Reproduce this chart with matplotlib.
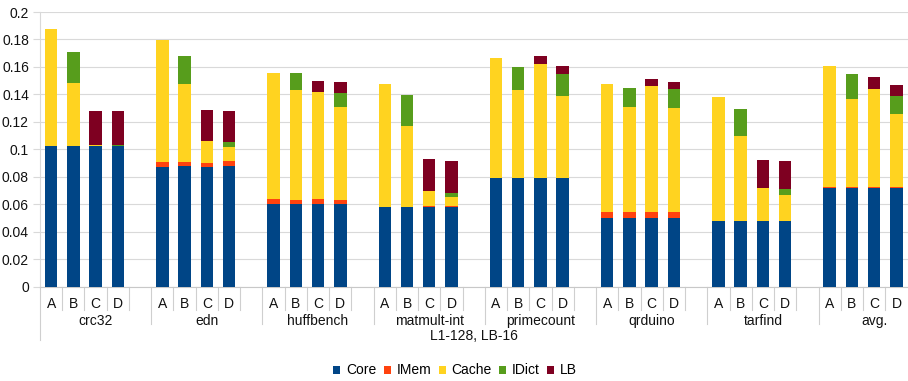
import numpy as np
import matplotlib
matplotlib.use('Agg')
import matplotlib.pyplot as plt
from matplotlib.patches import Patch

plt.rcParams['font.family'] = ['Liberation Sans', 'DejaVu Sans']

# benchmarks and configurations
groups = ['crc32', 'edn', 'huffbench', 'matmult-int', 'primecount', 'qrduino', 'tarfind', 'avg.']
variants = ['A', 'B', 'C', 'D']
axis_title = 'L1-128, LB-16'

# stacked components, 4 values (A..D) per benchmark
core = [0.1024, 0.1024, 0.1024, 0.1024,
        0.0871, 0.0881, 0.0871, 0.0881,
        0.0601, 0.0601, 0.0601, 0.0601,
        0.0579, 0.0579, 0.0579, 0.0579,
        0.0790, 0.0790, 0.0790, 0.0790,
        0.0499, 0.0499, 0.0499, 0.0499,
        0.0478, 0.0478, 0.0478, 0.0478,
        0.0716, 0.0716, 0.0716, 0.0716]
imem = [0.0, 0.0, 0.0, 0.0,
        0.0037, 0.0027, 0.0029, 0.0034,
        0.0037, 0.0029, 0.0037, 0.0029,
        0.0, 0.0, 0.0008, 0.0008,
        0.0, 0.0, 0.0, 0.0,
        0.0044, 0.0044, 0.0044, 0.0044,
        0.0, 0.0, 0.0, 0.0,
        0.0008, 0.0008, 0.0008, 0.0008]
cache = [0.0852, 0.0459, 0.0007, 0.0,
         0.0888, 0.0568, 0.0161, 0.0102,
         0.0916, 0.0800, 0.0778, 0.0677,
         0.0895, 0.0589, 0.0109, 0.0065,
         0.0873, 0.0640, 0.0829, 0.0597,
         0.0931, 0.0764, 0.0916, 0.0756,
         0.0901, 0.0618, 0.0240, 0.0189,
         0.0881, 0.0646, 0.0719, 0.0530]
idict = [0.0, 0.0226, 0.0, 0.0007,
         0.0, 0.0204, 0.0, 0.0036,
         0.0, 0.0124, 0.0, 0.0101,
         0.0, 0.0226, 0.0, 0.0029,
         0.0, 0.0168, 0.0, 0.0160,
         0.0, 0.0138, 0.0, 0.0139,
         0.0, 0.0196, 0.0, 0.0043,
         0.0, 0.0175, 0.0, 0.0131]
lb = [0.0, 0.0, 0.0248, 0.0248,
      0.0, 0.0, 0.0225, 0.0226,
      0.0, 0.0, 0.0080, 0.0080,
      0.0, 0.0, 0.0232, 0.0233,
      0.0, 0.0, 0.0059, 0.0058,
      0.0, 0.0, 0.0051, 0.0050,
      0.0, 0.0, 0.0203, 0.0204,
      0.0, 0.0, 0.0087, 0.0087]

series = [('Core', core, '#004586'),
          ('IMem', imem, '#ff420e'),
          ('Cache', cache, '#ffd320'),
          ('IDict', idict, '#579d1c'),
          ('LB', lb, '#7e0021')]

grid_col = '#d9d9d9'
tick_col = '#cfcfcf'

fig = plt.figure(figsize=(9.08, 3.81), dpi=100)
ax = fig.add_axes([40 / 908, (381 - 286.7) / 381, 867.5 / 908, 274.7 / 381])

# 4 bars + 1 empty slot per benchmark
slot = len(variants) + 1
x = np.array([g * slot + j for g in range(len(groups)) for j in range(len(variants))])

bottom = np.zeros(len(x))
for name, vals, col in series:
    vals = np.array(vals)
    ax.bar(x, vals, width=0.56, bottom=bottom, color=col, label=name, zorder=3)
    bottom += vals

ax.set_xlim(-0.5, len(groups) * slot - 1.5)
ax.set_ylim(0, 0.2)
yt = np.arange(0, 0.2001, 0.02)
ax.set_yticks(yt)
ax.set_yticklabels(['0' if v == 0 else f'{v:.2f}'.rstrip('0') for v in yt])
ax.tick_params(axis='y', length=5, color=grid_col, labelsize=10, pad=3, labelcolor='#111111')
ax.grid(axis='y', color=grid_col, lw=0.8, zorder=0)
ax.set_axisbelow(True)

for s in ['top', 'right']:
    ax.spines[s].set_visible(False)
ax.spines['left'].set_color(grid_col)
ax.spines['bottom'].set_color('#c8c8c8')

# hierarchical category axis drawn by hand
ax.set_xticks([])
trans = ax.get_xaxis_transform()
pt = 72 / 100  # px -> points at 100 dpi

for xi, g in zip(x, range(len(x))):
    ax.annotate(variants[g % len(variants)], (xi, 0), xycoords=trans,
                xytext=(0, -17.5 * pt), textcoords='offset points',
                ha='center', va='center', fontsize=10, color='#111111')

for gi, name in enumerate(groups):
    ax.annotate(name, (gi * slot + 2, 0), xycoords=trans,
                xytext=(0, -34.5 * pt), textcoords='offset points',
                ha='center', va='center', fontsize=10, color='#111111')

ax.annotate(axis_title, ((len(groups) * slot - 2) / 2, 0), xycoords=trans,
            xytext=(0, -49.5 * pt), textcoords='offset points',
            ha='center', va='center', fontsize=10, color='#111111')

# separator ticks below the axis
px_to_axes = 1 / 274.7
for b in np.arange(-0.5, len(groups) * slot - 1.5, 1.0):
    if b == -0.5:
        depth = 53
    elif (b + 0.5) % slot == 0:
        depth = 37.5
    else:
        depth = 23
    ax.plot([b, b], [0, -depth * px_to_axes], transform=trans, color=tick_col,
            lw=0.8, clip_on=False)

handles = [Patch(facecolor=col, label=name) for name, _, col in series]
fig.legend(handles=handles, loc='center', bbox_to_anchor=(455 / 908, 10.5 / 381),
           ncol=5, frameon=False, fontsize=10, handlelength=0.5, handleheight=0.5,
           handletextpad=0.4, columnspacing=0.55, borderaxespad=0, borderpad=0)

fig.savefig('out.png', dpi=100)
